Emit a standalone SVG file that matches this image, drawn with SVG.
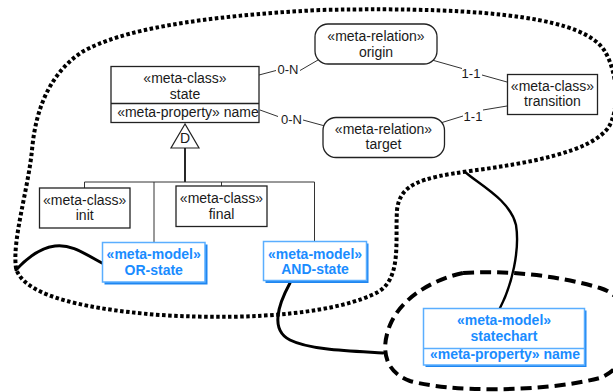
<svg xmlns="http://www.w3.org/2000/svg" width="613" height="392" viewBox="0 0 613 392">
<style>
text{font-family:"Liberation Sans",Arial,sans-serif;font-size:14px;fill:#1a1a1a;text-anchor:middle}
.lbl{font-size:13px}
.blue text{fill:#1a8cff;font-weight:bold}
.box{fill:#fff;stroke:#222;stroke-width:1.3}
.bbox{fill:#fff;stroke:#5aaeff;stroke-width:1.5}
.shadow{fill:#1f86f0}
.thin{fill:none;stroke:#333;stroke-width:1}
.dotted{fill:none;stroke:#000;stroke-width:4;stroke-dasharray:3.5 2.5}
.dashed{fill:none;stroke:#000;stroke-width:4;stroke-dasharray:11 6}
.solid{fill:none;stroke:#000;stroke-width:3;stroke-linecap:round}
</style>
<g id="outlines">
<path class="dotted" d="M320,10 C200,16 120,30 82,52 C52,72 36,105 32,150 C28,190 12,240 16,268 C22,292 70,308 160,315 C260,321 340,312 378,292 C402,278 395,240 397,210 C400,184 420,178 470,171 C530,163 590,152 608,128 C620,110 618,72 604,50 C584,20 500,6 320,10 Z"/>
<path class="dashed" d="M463,273 C430,280 400,300 390,325 C380,350 385,372 410,381 C450,392 540,393 600,378 C640,362 640,300 600,288 C560,276 510,270 463,273 Z"/>
</g>
<g id="connectors">
<polyline class="thin" points="259,75 276,70.5"/>
<polyline class="thin" points="300,70.5 318,60"/>
<polyline class="thin" points="260,110 278,116.5"/>
<polyline class="thin" points="303,120 325,126"/>
<polyline class="thin" points="432,60 462,68.5"/>
<polyline class="thin" points="482,75 507,82"/>
<polyline class="thin" points="442,122.5 463,116"/>
<polyline class="thin" points="483,110 507,106"/>
<text class="lbl" x="288" y="73.5">0-N</text>
<text class="lbl" x="291.5" y="123.5">0-N</text>
<text class="lbl" x="471" y="77.5">1-1</text>
<text class="lbl" x="473" y="120.5">1-1</text>
<polygon points="185,124 171,148 199,148" fill="#fff" stroke="#222" stroke-width="1.2"/>
<text x="185" y="142.5">D</text>
<line x1="185" y1="148" x2="185" y2="182" stroke="#111" stroke-width="1.8"/>
<polyline class="thin" points="84.5,188 84.5,182 314.5,182 314.5,242"/>
<line class="thin" x1="221.5" y1="182" x2="221.5" y2="186"/>
<line class="thin" x1="154" y1="182" x2="154" y2="242"/>
<path class="solid" d="M102,263 C82,252 70,244 55,246 C40,248 26,259 16,270"/>
<path class="solid" d="M290,283 C278,305 270,330 290,340 C310,350 350,351 383,353"/>
<path class="solid" style="stroke-width:2.4" d="M500,308 C512,285 520,250 516,225 C510,200 480,185 465,172"/>
</g>
<g id="state">
<rect class="box" x="111" y="66.5" width="148" height="56"/>
<line x1="111" y1="103.5" x2="259" y2="103.5" stroke="#222" stroke-width="1.3"/>
<text x="185" y="83">«meta-class»</text>
<text x="185" y="99">state</text>
<text x="188" y="117">«meta-property» name</text>
</g>
<g id="origin">
<rect class="box" x="315" y="24" width="122" height="40" rx="13"/>
<text x="376" y="41">«meta-relation»</text>
<text x="376" y="56.5">origin</text>
</g>
<g id="target">
<rect class="box" x="323" y="117.5" width="121.5" height="40" rx="13"/>
<text x="383.5" y="133.5">«meta-relation»</text>
<text x="383.5" y="148.5">target</text>
</g>
<g id="transition">
<rect class="box" x="507.5" y="74.5" width="90" height="40"/>
<text x="552.5" y="91">«meta-class»</text>
<text x="552.5" y="106">transition</text>
</g>
<g id="init">
<rect class="box" x="39.5" y="188" width="90.5" height="40"/>
<text x="84.7" y="205">«meta-class»</text>
<text x="84.7" y="220">init</text>
</g>
<g id="final">
<rect class="box" x="176" y="186" width="91" height="40.5"/>
<text x="221.5" y="203">«meta-class»</text>
<text x="221.5" y="218.5">final</text>
</g>
<g id="or-state" class="blue">
<rect class="shadow" x="104.5" y="244.5" width="103" height="40"/>
<rect class="bbox" x="102.5" y="242.5" width="102.5" height="39.5"/>
<text x="153.7" y="259">«meta-model»</text>
<text x="153.7" y="274.5">OR-state</text>
</g>
<g id="and-state" class="blue">
<rect class="shadow" x="265.5" y="243.5" width="103" height="39.5"/>
<rect class="bbox" x="263.5" y="241.5" width="103" height="39"/>
<text x="315" y="258.5">«meta-model»</text>
<text x="315" y="274">AND-state</text>
</g>
<g id="statechart" class="blue">
<rect class="shadow" x="425.5" y="310.5" width="161" height="56.5"/>
<rect class="bbox" x="423.5" y="308.5" width="161" height="56.5"/>
<line x1="423.5" y1="348.5" x2="584.5" y2="348.5" stroke="#5aaeff" stroke-width="1.5"/>
<text x="504" y="325">«meta-model»</text>
<text x="504" y="341">statechart</text>
<text x="505" y="358.5">«meta-property» name</text>
</g>
</svg>
